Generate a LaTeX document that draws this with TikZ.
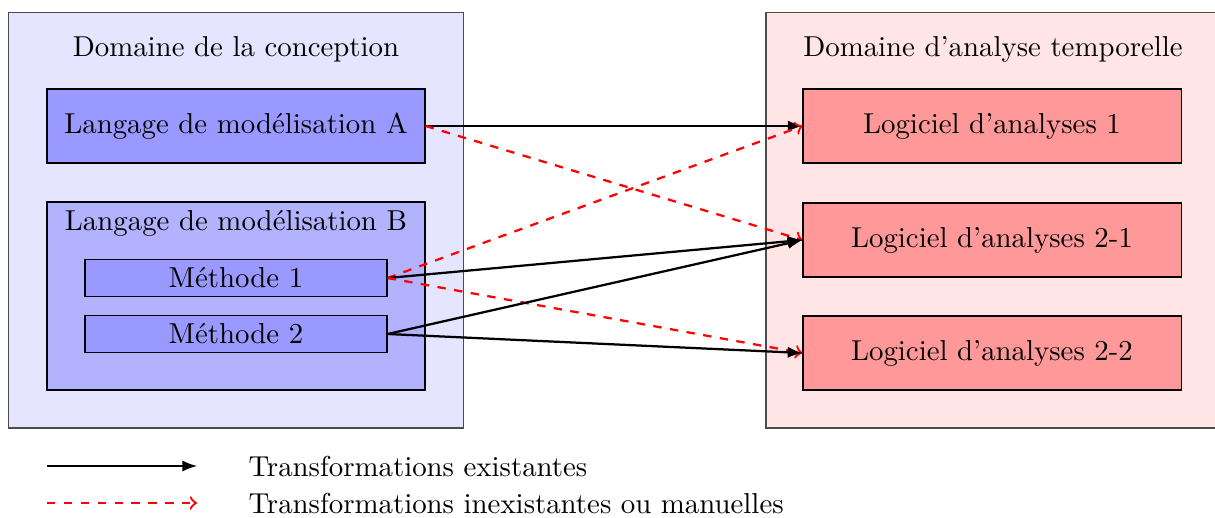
\documentclass[tikz,border=0pt]{standalone}
\usetikzlibrary{arrows}
\begin{document}
\begin{tikzpicture}[x=0.0125cm,y=-0.0125cm,
  every node/.style={font=\fontsize{10.25}{12.3}\selectfont},
  dombox/.style={draw=black!70,line width=0.4pt,minimum width=5.675cm,minimum height=5.1875cm,inner sep=0pt},
  bigbox/.style={draw=black,line width=0.4pt,minimum width=4.725cm,minimum height=0.925cm,inner sep=0pt},
  methbox/.style={draw=black,line width=0.4pt,fill=blue!40,minimum width=3.775cm,minimum height=0.4625cm,inner sep=0pt},
  exist/.style={-latex,thick,black},
  manual/.style={->,thick,dashed,red},
  lbl/.style={inner sep=0pt}]
\useasboundingbox (0,0) rectangle (1215,518);
% domains
\node[dombox,fill=blue!10] (dconc) at (236,220.5) {};
\node[dombox,fill=red!10] (dana) at (993,220.5) {};
\node[lbl] (tconc) at (236,49) {Domaine de la conception};
\node[lbl] (tana) at (993,49) {Domaine d'analyse temporelle};
% left
\node[bigbox,fill=blue!40] (A) at (236,126) {Langage de modélisation A};
\node[bigbox,fill=blue!30,minimum height=2.35cm] (B) at (236,296) {};
\node[lbl] (tB) at (236,223) {Langage de modélisation B};
\node[methbox] (M1) at (236,278) {Méthode 1};
\node[methbox] (M2) at (236,334) {Méthode 2};
% right
\node[bigbox,fill=red!40] (L1) at (992,126) {Logiciel d'analyses 1};
\node[bigbox,fill=red!40] (L21) at (992,240) {Logiciel d'analyses 2-1};
\node[bigbox,fill=red!40] (L22) at (992,353) {Logiciel d'analyses 2-2};
% connectors
\draw[exist] (A.east) -- (L1.west);
\draw[manual] (A.east) -- (L21.west);
\draw[manual] (M1.east) -- (L1.west);
\draw[exist] (M1.east) -- (L21.west);
\draw[manual] (M1.east) -- (L22.west);
\draw[exist] (M2.east) -- (L21.west);
\draw[exist] (M2.east) -- (L22.west);
% legend
\coordinate (e1) at (47,466);
\coordinate (e2) at (197,466);
\coordinate (m1) at (47,503);
\coordinate (m2) at (197,503);
\draw[exist] (e1) -- (e2);
\draw[manual] (m1) -- (m2);
\node[lbl,anchor=west] (le) at (248,466) {Transformations existantes};
\node[lbl,anchor=west] (lm) at (248,503) {Transformations inexistantes ou manuelles};
\end{tikzpicture}
\end{document}
